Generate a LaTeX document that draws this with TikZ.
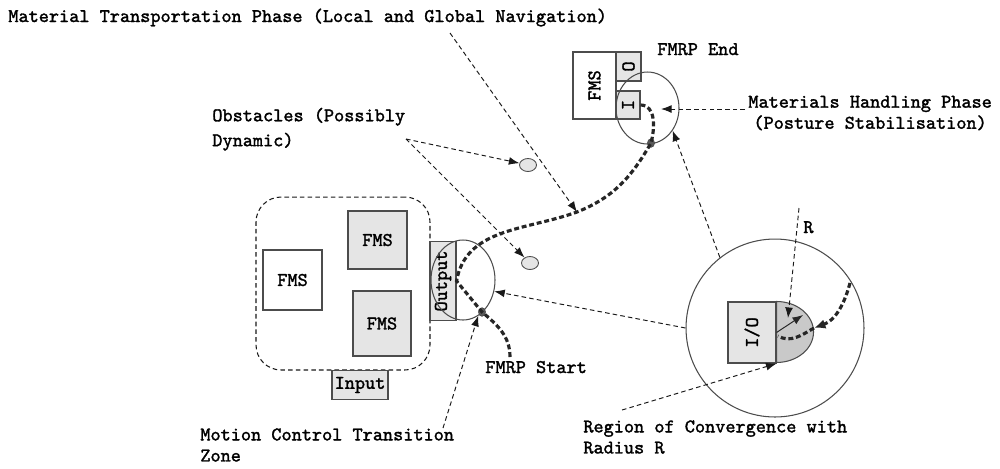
\documentclass[tikz,border=0pt]{standalone}
\usepackage{graphicx}
\usepackage{fontspec}
\usepackage{tikz}
\usetikzlibrary{shapes,arrows,arrows.meta,positioning,calc}

\newfontfamily\lbltt{Latin Modern Mono}[FakeBold=1.6]
\newcommand\lblfont{\fontsize{11}{12}\selectfont\lbltt\bfseries}
\newcommand\obsfont{\fontsize{11}{14.2}\selectfont\lbltt\bfseries}

\tikzset{
  station/.style={draw=black!70, line width=0.6pt, fill=white, inner sep=0pt, font=\lblfont},
  port/.style={station, fill=gray!20},
  zone/.style={draw=black!70, line width=0.6pt, ellipse, inner sep=0pt},
  lead/.style={draw=black!90, line width=0.55pt, dash pattern=on 2.6pt off 1.8pt,
    -{Latex[length=6pt,width=4.5pt]}},
  route/.style={draw=black!85, line width=1.8pt, dash pattern=on 2.8pt off 1.6pt},
  lbl/.style={inner sep=0pt, font=\lblfont, align=left},
}

\begin{document}
\begin{tikzpicture}[x=0.02cm, y=0.02cm,
    dot/.style={ellipse, fill=black!65, draw=black!70, minimum width=0.14cm,
      minimum height=0.17cm, inner sep=0pt},
    obstacle/.style={ellipse, draw=black!70, line width=0.5pt, fill=gray!20,
      minimum width=0.34cm, minimum height=0.26cm, inner sep=0pt}]
  \useasboundingbox (0,0) rectangle (1000,-468);

  % manufacturing cell with its stations
  \node (cell) [draw=black!90, line width=0.6pt, dash pattern=on 2.6pt off 1.8pt,
    rounded corners=0.5cm, minimum width=3.48cm, minimum height=3.46cm] at (343,-283.5) {};
  \node (fmsA) [station, minimum width=1.18cm, minimum height=1.2cm] at (292.5,-280) {FMS};
  \node (fmsB) [port, minimum width=1.18cm, minimum height=1.16cm] at (377.5,-240) {FMS};
  \node (fmsC) [port, minimum width=1.16cm, minimum height=1.3cm] at (382,-323.5) {FMS};
  \node (inbox) [port, minimum width=1.12cm, minimum height=0.58cm, anchor=north] at (360,-370) {Input};
  \node (outbox) [port, minimum width=0.52cm, minimum height=1.58cm] at (443,-281) {\rotatebox{90}{Output}};

  % start of the route
  \node (startzone) [zone, minimum width=1.28cm, minimum height=1.6cm] at (463,-280) {};
  \node (startdot) [dot] at (482,-312) {};
  \node (startlbl) [lbl, anchor=base west] at (485,-373) {FMRP Start};
  \coordinate (routestart) at (510,-357);

  % obstacles
  \node (obs1) [obstacle] at (528,-165) {};
  \node (obs2) [obstacle] at (530,-263) {};
  \node (obslbl) [lbl, font=\obsfont, anchor=north west] at (212,-107.5) {Obstacles (Possibly\\Dynamic)};
  \coordinate (obsfork) at (406,-139);
  \draw[lead] (obsfork) -- (obs1);
  \draw[lead] (obsfork) -- (obs2);

  % destination station
  \node (fmsD) [station, minimum width=0.86cm, minimum height=1.34cm] at (594.5,-85.5) {\rotatebox{90}{FMS}};
  \node (obox) [port, minimum width=0.5cm, minimum height=0.58cm] at (628.5,-66.5) {\rotatebox{90}{O}};
  \node (ibox) [port, minimum width=0.48cm, minimum height=0.56cm] at (628,-105) {\rotatebox{90}{I}};
  \node (endzone) [zone, minimum width=1.26cm, minimum height=1.44cm] at (647.5,-108) {};
  \node (enddot) [dot] at (651,-143) {};
  \node (endlbl) [lbl, anchor=base west] at (657,-55) {FMRP End};
  \node (mhlbl) [lbl, align=center, anchor=north west] at (748,-95.5) {Materials Handling Phase\\(Posture Stabilisation)};
  \coordinate (mhtail) at (745,-109);
  \coordinate (mhhead) at (661,-109);

  % navigation between the stations
  \node (navlbl) [lbl, anchor=base west] at (8,-22) {Material Transportation Phase (Local and Global Navigation)};
  \coordinate (navtail) at (450,-33);
  \coordinate (navpt) at (577,-212);
  \draw[route] (routestart) to[out=90,in=-40] (startdot.center) -- (outbox.east)
    to[out=80,in=200] (navpt) to[out=22,in=-120] (enddot.center) to[out=75,in=0] (ibox.east);
  \draw[lead] (navtail) -- (navpt);
  \draw[lead] (mhtail) -- (mhhead);

  % region of convergence, enlarged
  \node (convzone) [zone, circle, minimum size=3.56cm] at (775,-328) {};
  \node (iobox) [port, minimum width=0.96cm, minimum height=1.22cm] at (752,-332.5) {\rotatebox{90}{I/O}};
  \filldraw[draw=black!70, line width=0.6pt, fill=gray!42] (iobox.north east)
    arc[start angle=90, end angle=-90, x radius=0.74cm, y radius=0.61cm] -- cycle;
  \coordinate (rtip) at (803,-315);
  \draw[black!85, line width=0.55pt, -{Latex[length=6pt,width=4.5pt]}] (iobox.east) -- (rtip);
  \coordinate (convin) at (850,-283);
  \coordinate (convedge) at (814,-328);
  \coordinate (ioend) at (778,-336);
  \draw[route, -{Latex[length=6.5pt,width=5.5pt]}] (convin) to[out=-105,in=20] (convedge);
  \draw[route] (convedge) to[out=210,in=-30] (ioend);

  \node (rlbl) [lbl, anchor=base west] at (803,-233) {R};
  \coordinate (rtail) at (799,-208);
  \coordinate (rhead) at (788,-318);
  \draw[lead] (rtail) -- (rhead);

  \node (roclbl) [lbl, anchor=north west] at (583,-420) {Region of Convergence with\\Radius R};
  \coordinate (roctail) at (622,-410);
  \draw[lead] (roctail) -- (iobox.south east);

  \node (motionlbl) [lbl, anchor=north west] at (200,-428) {Motion Control Transition\\Zone};
  \coordinate (motiontail) at (443,-428);
  \draw[lead] (motiontail) -- (startzone.-67);

  % zones pointing back to the start and end of the route
  \draw[lead] (convzone.128) -- (endzone.-42);
  \draw[lead] (convzone.west) -- (startzone.-20);
\end{tikzpicture}
\end{document}
